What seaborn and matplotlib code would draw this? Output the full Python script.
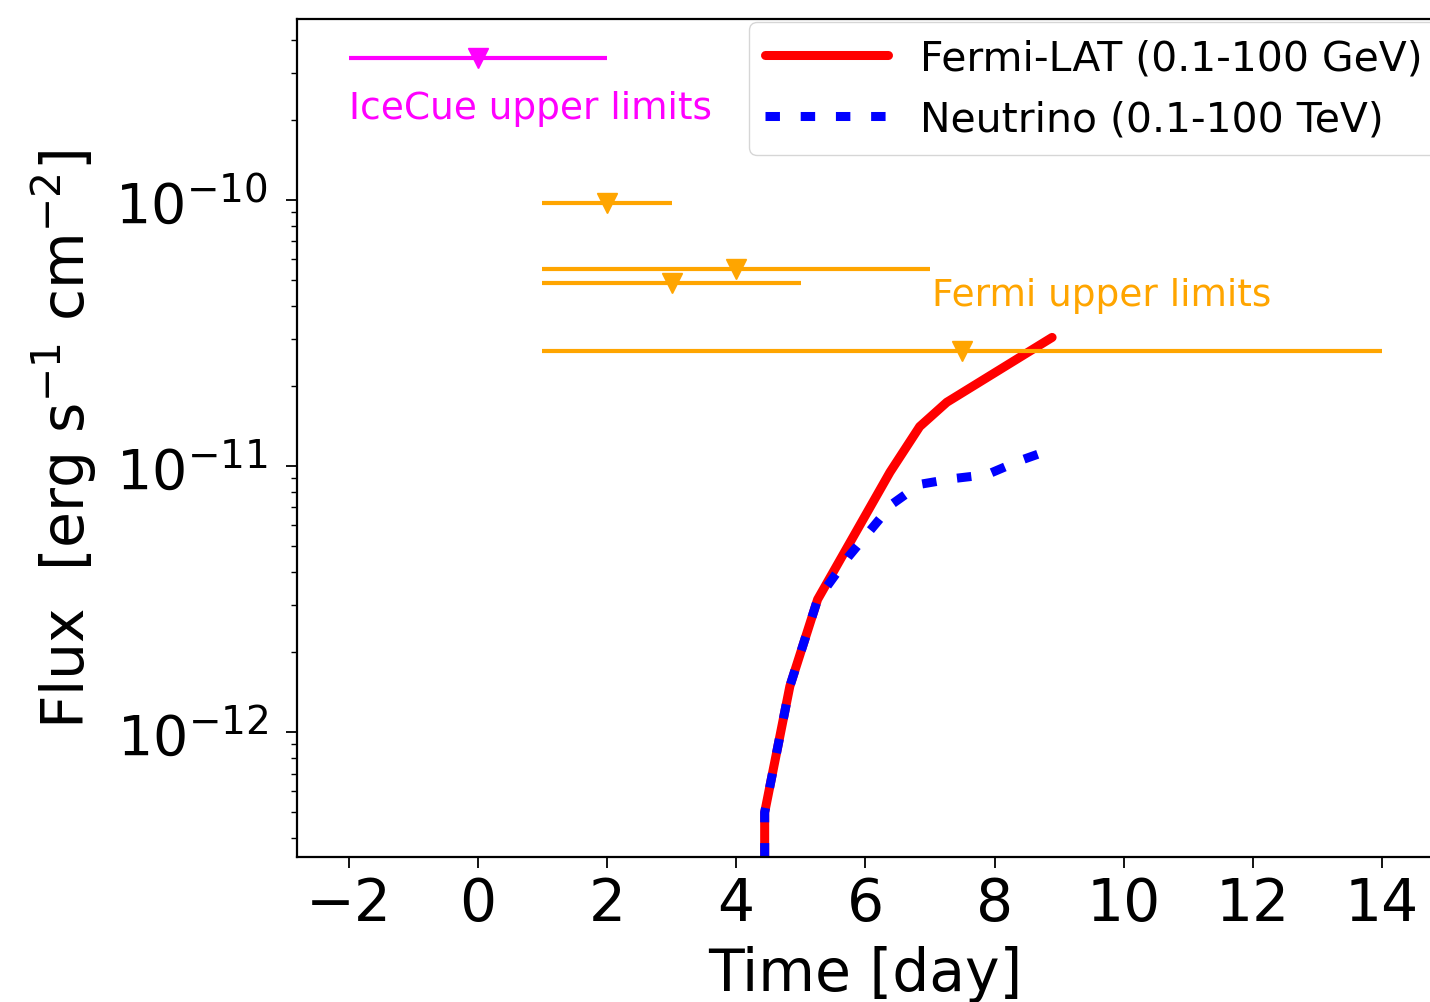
import numpy as np
import pandas as pd
import matplotlib
matplotlib.use("Agg")
import matplotlib.pyplot as plt
import seaborn as sns

# Model light curves (time in days, flux in erg s^-1 cm^-2)
fermi_t = [4.44, 4.44, 4.83, 5.26, 6.38, 6.84, 7.26, 8.89]
fermi_flux = [1.0e-13, 5.0e-13, 1.49e-12, 3.16e-12, 9.5e-12, 1.41e-11, 1.74e-11, 3.05e-11]

nu_t = [4.44, 4.44, 4.83, 5.26, 5.73, 6.41, 6.84, 7.38, 7.88, 8.39, 8.85]
nu_flux = [1.0e-13, 5.0e-13, 1.49e-12, 3.16e-12, 4.55e-12, 7.2e-12, 8.55e-12,
           9.0e-12, 9.3e-12, 1.05e-11, 1.15e-11]

# IceCube upper limit
icecube_t = [0.0]
icecube_dt = [2.0]
icecube_ul = [3.42e-10]

# Fermi-LAT upper limits
fermi_ul_t = [2.0, 4.0, 3.0, 7.5]
fermi_ul_dt = [1.0, 3.0, 2.0, 6.5]
fermi_ul = [9.8e-11, 5.5e-11, 4.9e-11, 2.7e-11]

sns.set_style("ticks")
plt.rcParams["font.family"] = ["DejaVu Sans"]
plt.rcParams["text.color"] = "black"
plt.rcParams["axes.labelcolor"] = "black"
plt.rcParams["axes.linewidth"] = 1.6
plt.rcParams["xtick.major.size"] = 8
plt.rcParams["ytick.major.size"] = 8
plt.rcParams["ytick.minor.size"] = 4.5
plt.rcParams["xtick.major.width"] = 1.3
plt.rcParams["ytick.major.width"] = 1.3
plt.rcParams["ytick.minor.width"] = 1.0
plt.rcParams["xtick.color"] = "black"
plt.rcParams["ytick.color"] = "black"
plt.rcParams["xtick.labelcolor"] = "black"
plt.rcParams["ytick.labelcolor"] = "black"
plt.rcParams["axes.edgecolor"] = "black"

fig = plt.figure(figsize=(14.30, 10.03), dpi=100)
ax = fig.add_axes([0.2077, 0.1446, 0.795, 0.8355])

df_fermi = pd.DataFrame({"t": fermi_t, "flux": fermi_flux})
df_nu = pd.DataFrame({"t": nu_t, "flux": nu_flux})

sns.lineplot(data=df_fermi, x="t", y="flux", ax=ax, color="red", linewidth=6.5,
             estimator=None, sort=False, label="Fermi-LAT (0.1-100 GeV)")
sns.lineplot(data=df_nu, x="t", y="flux", ax=ax, color="blue", linewidth=6.5,
             estimator=None, sort=False, linestyle=(0, (1.6, 2.3)),
             label="Neutrino (0.1-100 TeV)")

ax.errorbar(icecube_t, icecube_ul, xerr=icecube_dt, fmt="v", color="magenta",
            markersize=14, elinewidth=3, capsize=0)
ax.errorbar(fermi_ul_t, fermi_ul, xerr=fermi_ul_dt, fmt="v", color="orange",
            markersize=14, elinewidth=3, capsize=0)

ax.text(-2.0, 2.22e-10, "IceCue upper limits", color="magenta", fontsize=27,
        va="center", ha="left")
ax.text(7.03, 4.4e-11, "Fermi upper limits", color="orange", fontsize=27,
        va="center", ha="left")

ax.set_yscale("log")
ax.set_xlim(-2.8, 14.8)
ax.set_ylim(3.4e-13, 4.8e-10)
ax.set_xticks([-2, 0, 2, 4, 6, 8, 10, 12, 14])
ax.tick_params(axis="x", which="major", labelsize=42, pad=5)
ax.tick_params(axis="y", which="major", labelsize=40, pad=13)

ax.set_xlabel("Time [day]", fontsize=42, labelpad=9)
ax.set_ylabel(r"Flux  [erg s$^{-1}$ cm$^{-2}$]", fontsize=42, labelpad=12)

ax.legend(loc="upper left", bbox_to_anchor=(0.3975, 0.996), borderaxespad=0,
          fontsize=29.4, handlelength=3.0, frameon=True)

fig.savefig("out.png", dpi=100)
